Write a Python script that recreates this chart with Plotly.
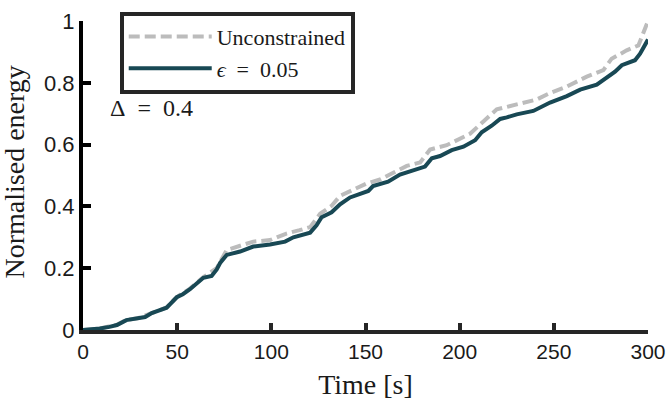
import plotly.graph_objects as go

# time [s] and normalised energy
t_unc = [0, 9, 18, 23, 29, 36.5, 44.4, 49.8, 56.8, 63.9, 71, 76.3, 83.4, 90.4, 99.3,
         108, 115, 120.6, 125.9, 132, 136.5, 143.5, 150.6, 157.7, 164.8, 171.9, 179,
         184.3, 193.1, 200.2, 205.5, 212.6, 219.7, 230.3, 240.9, 248, 256.9, 267.5,
         276.3, 280.7, 288.7, 294.9, 297.6, 300]
e_unc = [0, 0.005, 0.017, 0.033, 0.038, 0.056, 0.073, 0.107, 0.134, 0.171, 0.20, 0.259,
         0.272, 0.286, 0.291, 0.312, 0.323, 0.333, 0.376, 0.402, 0.434, 0.455, 0.474,
         0.487, 0.508, 0.531, 0.542, 0.584, 0.598, 0.619, 0.635, 0.675, 0.714, 0.730,
         0.746, 0.767, 0.788, 0.820, 0.841, 0.878, 0.905, 0.921, 0.963, 1.0]

t_eps = [0, 5, 9, 14, 18, 23, 29, 33, 36.5, 40, 44.4, 49.8, 53, 56.8, 60.4, 63.9, 68.3,
         71, 72.8, 76.3, 83.4, 90.4, 99.3, 107.3, 111.7, 120.6, 124, 126.7, 132, 136.5,
         141.8, 147, 151.5, 154, 162, 168.3, 175.4, 181.6, 185.2, 189.6, 195.8, 202,
         208.2, 211.7, 217, 221.5, 225, 230.3, 239.1, 248, 256.9, 264, 272.8, 278.1,
         282.5, 286.1, 293.1, 295.8, 300]
e_eps = [0, 0.002, 0.005, 0.01, 0.016, 0.032, 0.037, 0.042, 0.055, 0.062, 0.072, 0.106,
         0.116, 0.132, 0.153, 0.169, 0.175, 0.196, 0.217, 0.243, 0.254, 0.27, 0.277,
         0.286, 0.30, 0.315, 0.339, 0.365, 0.381, 0.407, 0.429, 0.439, 0.45, 0.466,
         0.48, 0.503, 0.516, 0.529, 0.556, 0.563, 0.582, 0.593, 0.614, 0.640, 0.661,
         0.683, 0.688, 0.698, 0.709, 0.736, 0.757, 0.778, 0.794, 0.815, 0.836, 0.857,
         0.873, 0.894, 0.94]

x_ticks = [0, 50, 100, 150, 200, 250, 300]
y_ticks = [0, 0.2, 0.4, 0.6, 0.8, 1]
y_ticklabels = ["0", "0.2", "0.4", "0.6", "0.8", "1"]

serif = "Liberation Serif"
sans = "Liberation Sans"
txt = "#1a1a1a"

fig = go.Figure()
fig.add_trace(go.Scatter(x=t_unc, y=e_unc, mode="lines", name="Unconstrained",
                         line=dict(color="#bcbcbc", width=4, dash="11px,5px")))
fig.add_trace(go.Scatter(x=t_eps, y=e_eps, mode="lines",
                         name="<i>ϵ</i>\u2002=\u20020.05",
                         line=dict(color="#184854", width=4)))

fig.add_annotation(x=0.044, y=0.72, xref="paper", yref="paper", xanchor="left",
                   yanchor="middle", showarrow=False, text="Δ\u2002=\u20020.4",
                   font=dict(family=serif, size=24, color=txt))
# y-axis title, placed by hand to sit closer to the page edge
fig.add_annotation(x=-0.122, y=0.51, xref="paper", yref="paper", textangle=-90,
                   xanchor="center", yanchor="middle", showarrow=False,
                   text="Normalised energy",
                   font=dict(family=serif, size=28, color=txt))

fig.update_layout(
    width=667, height=400,
    margin=dict(l=83, r=19, t=15, b=70),
    plot_bgcolor="white", paper_bgcolor="white",
    showlegend=True,
    legend=dict(x=0.065, y=1.03, xanchor="left", yanchor="top",
                bordercolor="#262626", borderwidth=4, bgcolor="white",
                font=dict(family=serif, size=22, color=txt),
                itemwidth=83),
    xaxis=dict(range=[0, 300], tickvals=x_ticks, ticks="inside", ticklen=7,
               tickwidth=4, tickcolor="#262626", showline=True, linewidth=4,
               linecolor="#262626", showgrid=False, zeroline=False, automargin=False,
               ticklabeloverflow="allow",
               tickfont=dict(family=sans, size=21, color=txt),
               title=dict(text="Time [s]", font=dict(family=serif, size=28, color=txt))),
    yaxis=dict(range=[0, 1], tickvals=y_ticks, ticktext=y_ticklabels, ticks="inside",
               ticklen=8, tickwidth=4, tickcolor="black", showline=True, linewidth=4,
               linecolor="black", showgrid=False, zeroline=False, automargin=False,
               ticklabeloverflow="allow",
               tickfont=dict(family=sans, size=22, color=txt)),
)

# drop the default body margin so the 667x400 figure fills the window exactly
fig.write_html("out.html", config={"displayModeBar": False},
               post_script="document.body.style.margin='0';")
